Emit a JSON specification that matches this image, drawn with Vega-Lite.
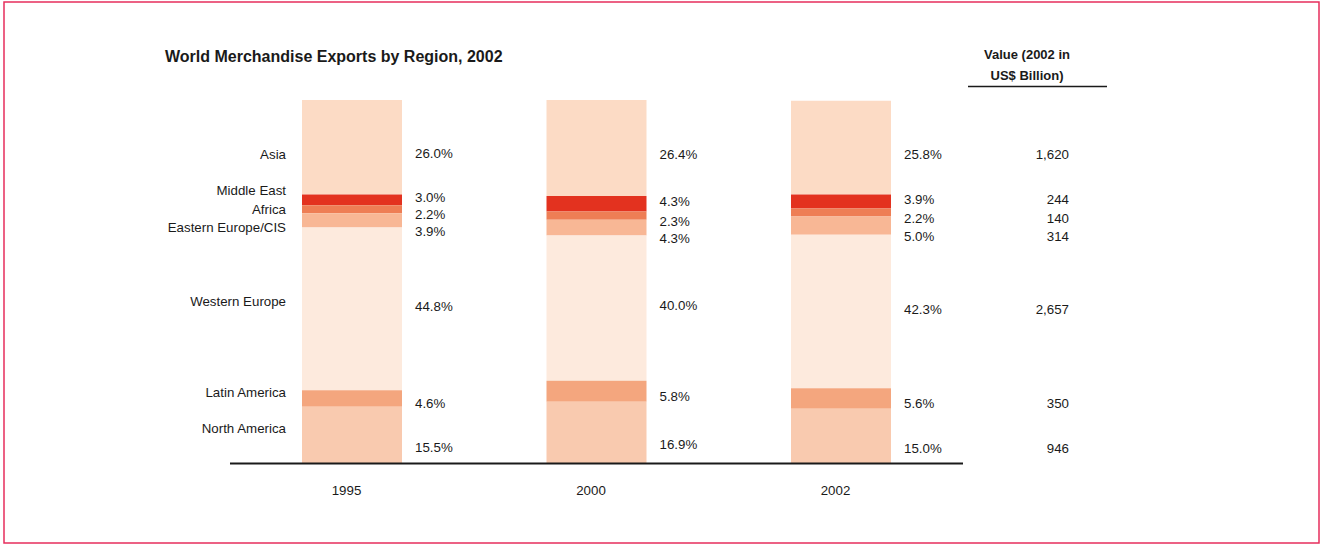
{
  "$schema": "https://vega.github.io/schema/vega-lite/v6.json",
  "width": 1315,
  "height": 541,
  "autosize": "none",
  "padding": {"left": 4, "top": 2, "right": 8, "bottom": 2},
  "background": "white",
  "config": {
    "view": {"stroke": "#E62E5C", "strokeWidth": 1.5},
    "font": "Liberation Sans",
    "text": {"font": "Liberation Sans", "color": "#1a1a1a"}
  },
  "data": {
    "values": [
      {"year": "1995", "region": "Asia", "pct": 26.0},
      {"year": "1995", "region": "Middle East", "pct": 3.0},
      {"year": "1995", "region": "Africa", "pct": 2.2},
      {"year": "1995", "region": "Eastern Europe/CIS", "pct": 3.9},
      {"year": "1995", "region": "Western Europe", "pct": 44.8},
      {"year": "1995", "region": "Latin America", "pct": 4.6},
      {"year": "1995", "region": "North America", "pct": 15.5},
      {"year": "2000", "region": "Asia", "pct": 26.4},
      {"year": "2000", "region": "Middle East", "pct": 4.3},
      {"year": "2000", "region": "Africa", "pct": 2.3},
      {"year": "2000", "region": "Eastern Europe/CIS", "pct": 4.3},
      {"year": "2000", "region": "Western Europe", "pct": 40.0},
      {"year": "2000", "region": "Latin America", "pct": 5.8},
      {"year": "2000", "region": "North America", "pct": 16.9},
      {"year": "2002", "region": "Asia", "pct": 25.8, "value": 1620},
      {"year": "2002", "region": "Middle East", "pct": 3.9, "value": 244},
      {"year": "2002", "region": "Africa", "pct": 2.2, "value": 140},
      {"year": "2002", "region": "Eastern Europe/CIS", "pct": 5.0, "value": 314},
      {"year": "2002", "region": "Western Europe", "pct": 42.3, "value": 2657},
      {"year": "2002", "region": "Latin America", "pct": 5.6, "value": 350},
      {"year": "2002", "region": "North America", "pct": 15.0, "value": 946}
    ]
  },
  "transform": [
    {"calculate": "indexof(['North America','Latin America','Western Europe','Eastern Europe/CIS','Africa','Middle East','Asia'], datum.region)", "as": "rank"},
    {"stack": "pct", "groupby": ["year"], "sort": [{"field": "rank", "order": "ascending"}], "as": ["y0", "y1"]},
    {"calculate": "(datum.y0 + datum.y1) / 2", "as": "mid"},
    {"calculate": "format(datum.pct, '.1f') + '%'", "as": "pctLabel"}
  ],
  "layer": [
    {
      "mark": {"type": "bar"},
      "encoding": {
        "x": {
          "field": "year", "type": "nominal",
          "scale": {"domain": ["1995", "2000", "2002"], "range": [298, 887], "paddingInner": 0.591, "paddingOuter": 0},
          "axis": null
        },
        "y": {
          "field": "y1", "type": "quantitative",
          "scale": {"domain": [-22, 127], "nice": false, "zero": false},
          "axis": null
        },
        "y2": {"field": "y0"},
        "color": {
          "field": "region", "type": "nominal",
          "scale": {
            "domain": ["Asia", "Middle East", "Africa", "Eastern Europe/CIS", "Western Europe", "Latin America", "North America"],
            "range": ["#FCDBC5", "#E3321F", "#EE7E55", "#F8B795", "#FDEADD", "#F4A67E", "#F9CAAF"]
          },
          "legend": null
        }
      }
    },
    {
      "mark": {"type": "text", "align": "left", "baseline": "middle", "fontSize": 13.3, "dy": {"expr": "[13,6,-2,11.5,6,-2,7][datum.rank]"}},
      "encoding": {
        "x": {"field": "year", "type": "nominal", "bandPosition": 1.13},
        "y": {"field": "mid", "type": "quantitative"},
        "text": {"field": "pctLabel"}
      }
    },
    {
      "transform": [{"filter": "datum.year == '1995'"}],
      "mark": {"type": "text", "align": "right", "baseline": "middle", "fontSize": 13.3, "dy": {"expr": "[-5.6,-5.9,-6.4,7.7,0.2,-8.8,7.6][datum.rank]"}},
      "encoding": {
        "x": {"field": "year", "type": "nominal", "bandPosition": -0.16},
        "y": {"field": "mid", "type": "quantitative"},
        "text": {"field": "region"}
      }
    },
    {
      "transform": [{"filter": "datum.year == '2002'"}],
      "mark": {"type": "text", "align": "right", "baseline": "middle", "fontSize": 13.3, "dy": {"expr": "[13,6,-2,11.5,6,-2,7][datum.rank]"}},
      "encoding": {
        "x": {"field": "year", "type": "nominal", "bandPosition": 2.78},
        "y": {"field": "mid", "type": "quantitative"},
        "text": {"field": "value", "type": "quantitative", "format": ","}
      }
    },
    {
      "transform": [{"filter": "datum.region == 'North America'"}],
      "mark": {"type": "text", "align": "center", "baseline": "middle", "fontSize": 13.3},
      "encoding": {
        "x": {"field": "year", "type": "nominal", "bandPosition": 0.445},
        "y": {"datum": -7.8, "type": "quantitative"},
        "text": {"field": "year"}
      }
    },
    {
      "data": {"values": [{"t": "baseline"}]},
      "mark": {"type": "rule", "color": "#1a1a1a", "strokeWidth": 2},
      "encoding": {
        "x": {"datum": "1995", "type": "nominal", "bandPosition": -0.72},
        "x2": {"datum": "2002", "bandPosition": 1.72},
        "y": {"datum": -0.1, "type": "quantitative"}
      }
    },
    {
      "data": {"values": [{"t": "underline"}]},
      "mark": {"type": "rule", "color": "#1a1a1a", "strokeWidth": 1.5},
      "encoding": {
        "x": {"datum": "2002", "type": "nominal", "bandPosition": 1.77},
        "x2": {"datum": "2002", "bandPosition": 3.16},
        "y": {"datum": 103.73, "type": "quantitative"}
      }
    },
    {
      "data": {"values": [{"t": "Value (2002 in\nUS$ Billion)"}]},
      "mark": {"type": "text", "align": "center", "baseline": "middle", "fontSize": 13, "fontWeight": "bold", "lineBreak": "\n", "lineHeight": 21},
      "encoding": {
        "x": {"datum": "2002", "type": "nominal", "bandPosition": 2.36},
        "y": {"datum": 112.5, "type": "quantitative"},
        "text": {"field": "t"}
      }
    },
    {
      "data": {"values": [{"t": "World Merchandise Exports by Region, 2002"}]},
      "mark": {"type": "text", "align": "left", "baseline": "alphabetic", "fontSize": 16, "fontWeight": "bold"},
      "encoding": {
        "x": {"datum": "1995", "type": "nominal", "bandPosition": -1.37},
        "y": {"datum": 110.48, "type": "quantitative"},
        "text": {"field": "t"}
      }
    }
  ]
}
